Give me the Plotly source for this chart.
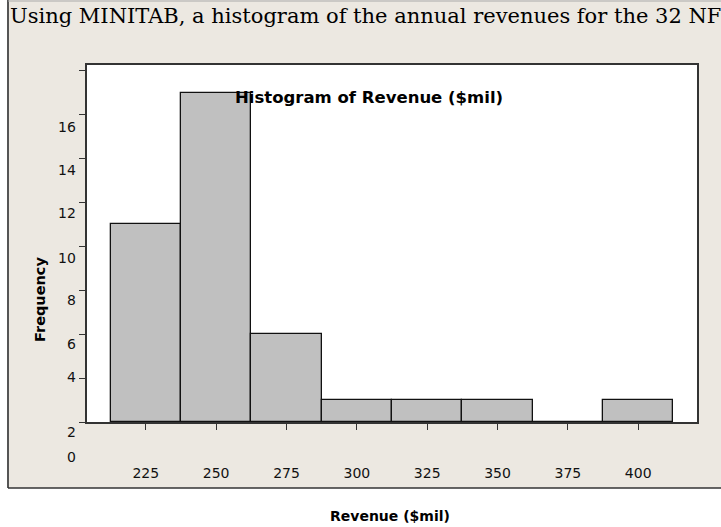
import plotly.graph_objects as go

# ---- data ----
bin_centers = [225, 250, 275, 300, 325, 350, 375, 400]
frequencies = [9, 15, 4, 1, 1, 1, 0, 1]
x_tick_labels = ["225", "250", "275", "300", "325", "350", "375", "400"]
y_tick_values = [0, 2, 4, 6, 8, 10, 12, 14, 16]
y_label_texts = ["0", "2", "4", "6", "8", "10", "12", "14", "16"]
# positions (in y-data units) where the shifted y labels appear in the scan
y_label_pos = [-1.58, -0.44, 2.03, 3.57, 5.56, 7.47, 9.52, 11.48, 13.44]

chart_title = "Histogram of Revenue ($mil)"
x_title = "Revenue ($mil)"
y_title = "Frequency"
top_text = "Using MINITAB, a histogram of the annual revenues for the 32 NFL teams"

W, H = 721, 527
L, R, T, B = 87, 24, 65, 105
pw, ph = W - L - R, H - T - B
Y_RANGE = [0, 16.26]


def px_x(px):
    return (px - L) / pw


def px_y(py):
    return (H - B - py) / ph


BEIGE = "#ECE8E1"
TICKFONT = dict(family="DejaVu Sans, Verdana, sans-serif", size=14, color="#111")

fig = go.Figure()
fig.add_trace(go.Bar(
    x=bin_centers, y=frequencies, width=25,
    marker=dict(color="#C0C0C0", line=dict(color="#111", width=1.3)),
    hoverinfo="x+y",
))

shapes = [
    dict(type="rect", xref="paper", yref="paper", x0=px_x(8), x1=px_x(730),
         y0=px_y(488), y1=px_y(-5), fillcolor=BEIGE, line=dict(width=0), layer="below"),
    dict(type="rect", xref="paper", yref="paper", x0=0, x1=1, y0=0, y1=1,
         fillcolor="white", line=dict(width=0), layer="below"),
    dict(type="line", xref="paper", yref="paper", x0=px_x(8), x1=px_x(8),
         y0=px_y(488), y1=px_y(-5), line=dict(color="#555", width=2), layer="below"),
    dict(type="line", xref="paper", yref="paper", x0=px_x(8), x1=px_x(730),
         y0=px_y(488), y1=px_y(488), line=dict(color="#333", width=1.5), layer="below"),
    dict(type="line", xref="paper", yref="paper", x0=px_x(8), x1=px_x(730),
         y0=px_y(1), y1=px_y(1), line=dict(color="#aaa", width=1), layer="below"),
]

annotations = []
for txt, pos in zip(y_label_texts, y_label_pos):
    annotations.append(dict(
        text=txt, xref="paper", yref="paper", x=px_x(78),
        y=(pos - Y_RANGE[0]) / (Y_RANGE[1] - Y_RANGE[0]),
        xanchor="right", yanchor="middle", showarrow=False, font=TICKFONT))

annotations += [
    dict(text="<b>" + chart_title + "</b>", xref="paper", yref="paper",
         x=px_x(369), y=px_y(97), xanchor="center", yanchor="middle", showarrow=False,
         font=dict(family="DejaVu Sans, Verdana, sans-serif", size=16.5, color="#000")),
    dict(text="<b>" + y_title + "</b>", xref="paper", yref="paper", textangle=-90,
         x=px_x(40), y=px_y(300), xanchor="center", yanchor="middle", showarrow=False,
         font=dict(family="DejaVu Sans, Verdana, sans-serif", size=14.5, color="#000")),
    dict(text="<b>" + x_title + "</b>", xref="paper", yref="paper",
         x=px_x(390), y=px_y(516), xanchor="center", yanchor="middle", showarrow=False,
         font=dict(family="DejaVu Sans, Verdana, sans-serif", size=14, color="#000")),
    dict(text=top_text, xref="paper", yref="paper",
         x=px_x(8), y=px_y(16), xanchor="left", yanchor="middle", showarrow=False,
         font=dict(family="DejaVu Serif, Liberation Serif, serif", size=21, color="#000")),
]

fig.update_layout(
    width=W, height=H,
    margin=dict(l=L, r=R, t=T, b=B, pad=0),
    paper_bgcolor="white", plot_bgcolor="white",
    showlegend=False,
    bargap=0,
    shapes=shapes,
    annotations=annotations,
    xaxis=dict(
        range=[204.1, 420.9], tickmode="array", tickvals=bin_centers, ticktext=x_tick_labels,
        ticks="outside", ticklen=6, tickcolor="#333", tickwidth=1.3,
        showline=True, mirror=True, linecolor="#333", linewidth=1.5,
        showgrid=False, zeroline=False, tickfont=TICKFONT, ticklabelstandoff=31,
    ),
    yaxis=dict(
        range=Y_RANGE, tickmode="array", tickvals=y_tick_values,
        ticks="outside", ticklen=6, tickcolor="#333", tickwidth=1.3,
        showticklabels=False,
        showline=True, mirror=True, linecolor="#333", linewidth=1.5,
        showgrid=False, zeroline=False,
    ),
)

fig.write_html(
    "out.html",
    config={"displayModeBar": False},
    post_script="document.body.style.margin='0';document.body.style.overflow='hidden';",
)
